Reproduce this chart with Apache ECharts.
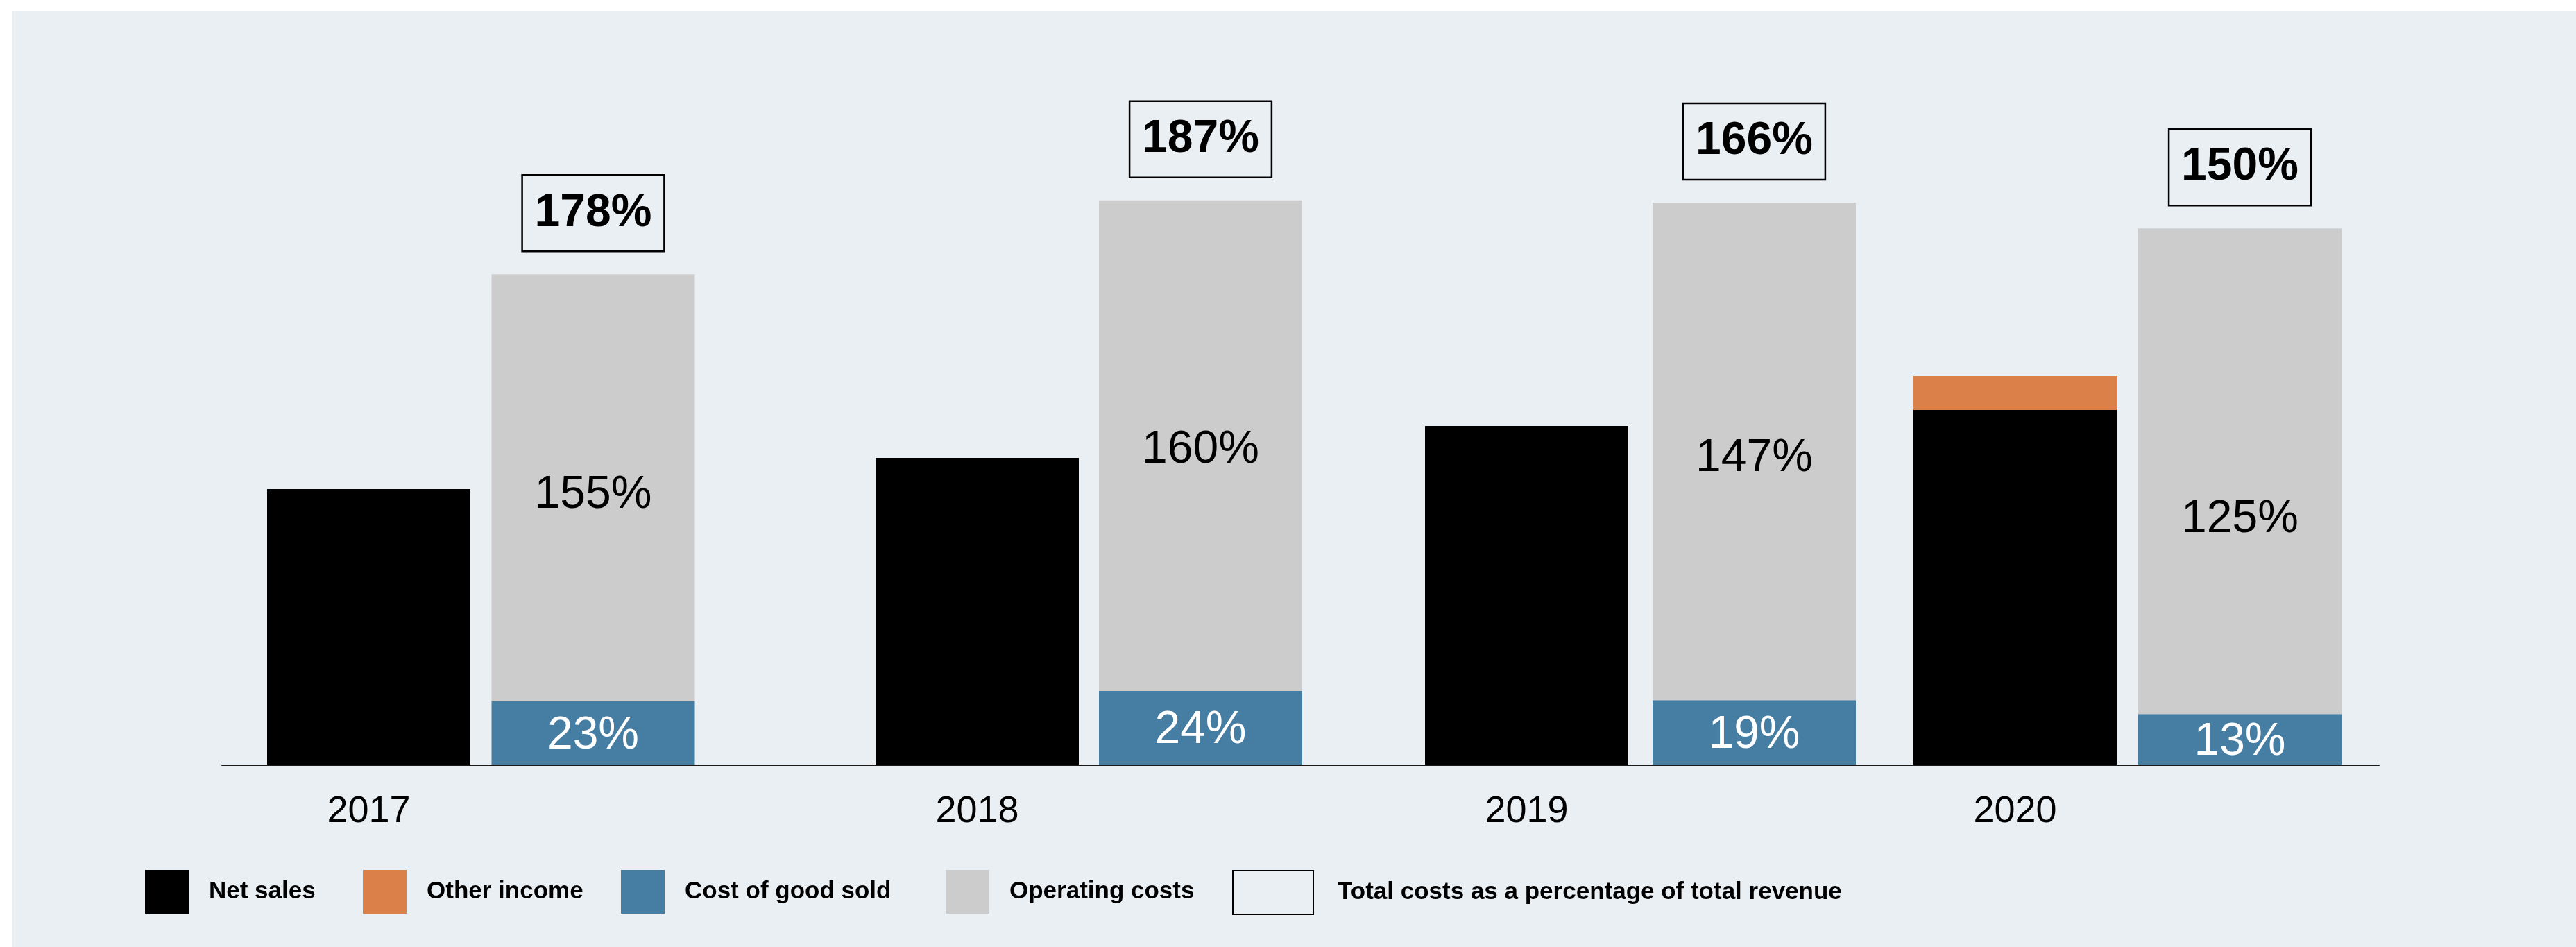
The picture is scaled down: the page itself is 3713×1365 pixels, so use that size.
<!DOCTYPE html>
<html>
<head>
<meta charset="utf-8">
<script src="https://cdn.jsdelivr.net/npm/echarts@6/dist/echarts.min.js"></script>
<style>
  html, body { margin: 0; padding: 0; background: #ffffff; }
  #chart { width: 3713px; height: 1365px; }
</style>
</head>
<body>
<div id="chart"></div>
<script>
// Revenue versus costs, 2017–2020
const years = ['2017', '2018', '2019', '2020'];
const netSales = [397, 442, 488, 511];
const otherIncome = [0, 0, 0, 49];
const cogsPct = [23, 24, 19, 13];        // cost of good sold, % of total revenue
const opexPct = [155, 160, 147, 125];    // operating costs, % of total revenue
const totalPct = [178, 187, 166, 150];   // total costs as reported
const seriesNames = ['Net sales', 'Other income', 'Cost of good sold', 'Operating costs',
  'Total costs as a percentage of total revenue'];

// ---- styling / layout ----
const COLORS = { net: '#000000', other: '#DC8049', cogs: '#467DA3', opex: '#CCCCCC', panel: '#EAEFF4' };
const FONT = '"Liberation Sans", Arial, Helvetica, sans-serif';
const W = 3713, H = 1365;
// centre x of the revenue column and the cost column of each year
const columnCentres = [[531.5, 855], [1408.5, 1730.5], [2200.5, 2528.5], [2904.5, 3228.5]];
const BAR_W = 293;
const PLOT_TOP = 102, PLOT_BOTTOM = 263, Y_MAX = 1000;
const opexLabelShift = [11, 6, 10, 70];
const legendLefts = [204, 518, 890, 1358, 1771];

const grid = [], xAxis = [], yAxis = [], series = [];

years.forEach((yr, i) => {
  const [c0, c1] = columnCentres[i];
  const slot = c1 - c0;
  grid.push({ left: c0 - slot / 2, width: slot * 2, top: PLOT_TOP, bottom: PLOT_BOTTOM });
  xAxis.push({
    type: 'category', gridIndex: i, data: [yr, ''],
    axisLine: { show: false }, axisTick: { show: false }, splitLine: { show: false },
    axisLabel: { fontFamily: FONT, fontSize: 54, color: '#000', margin: 41, interval: 0 }
  });
  yAxis.push({ type: 'value', gridIndex: i, min: 0, max: Y_MAX, show: false });

  const revenue = netSales[i] + otherIncome[i];
  const cogs = cogsPct[i] / 100 * revenue;
  const opex = opexPct[i] / 100 * revenue;
  const common = { type: 'bar', xAxisIndex: i, yAxisIndex: i, stack: 'col' + i, barWidth: BAR_W, silent: true };

  series.push(Object.assign({}, common, {
    name: seriesNames[0], data: [netSales[i], '-'], itemStyle: { color: COLORS.net }
  }));
  series.push(Object.assign({}, common, {
    name: seriesNames[1], data: [otherIncome[i] || '-', '-'], itemStyle: { color: COLORS.other }
  }));
  series.push(Object.assign({}, common, {
    name: seriesNames[2], data: ['-', cogs], itemStyle: { color: COLORS.cogs },
    label: {
      show: true, position: 'inside', offset: [0, 4], color: '#fff', fontFamily: FONT, fontSize: 66,
      formatter: () => cogsPct[i] + '%'
    }
  }));
  series.push(Object.assign({}, common, {
    name: seriesNames[3], data: ['-', opex], itemStyle: { color: COLORS.opex },
    label: {
      show: true, position: 'inside', offset: [0, opexLabelShift[i]], color: '#000', fontFamily: FONT, fontSize: 66,
      formatter: () => opexPct[i] + '%'
    }
  }));
  // boxed total sitting above the cost column
  series.push({
    type: 'scatter', name: seriesNames[4], xAxisIndex: i, yAxisIndex: i, silent: true,
    symbolSize: 0, itemStyle: { color: 'transparent', opacity: 1 },
    data: ['-', cogs + opex],
    label: {
      show: true, position: 'top', distance: 33,
      formatter: () => totalPct[i] + '%',
      fontFamily: FONT, fontSize: 66, fontWeight: 'bold', color: '#000', lineHeight: 66,
      borderColor: '#000', borderWidth: 2.5, padding: [22, 18]
    }
  });
});

// baseline shared by all years
grid.push({ left: 320, right: W - 3429, top: PLOT_TOP, bottom: PLOT_BOTTOM - 1 });
xAxis.push({
  type: 'value', gridIndex: 4, min: 0, max: 1,
  axisLine: { show: true, lineStyle: { color: '#1a1a1a', width: 2 } },
  axisTick: { show: false }, axisLabel: { show: false }, splitLine: { show: false }
});
yAxis.push({ type: 'value', gridIndex: 4, min: 0, max: 1, show: false });

const legend = seriesNames.map((name, k) => ({
  left: legendLefts[k], top: 1249, orient: 'horizontal',
  itemWidth: k === 4 ? 116 : 63, itemHeight: 63, selectedMode: false,
  data: [k === 4
    ? { name, icon: 'rect', itemStyle: { color: 'transparent', borderColor: '#000', borderWidth: 2, opacity: 1 } }
    : { name, icon: 'rect' }],
  textStyle: { fontFamily: FONT, fontSize: 35, fontWeight: 'bold', color: '#000', padding: [0, 0, 0, k === 4 ? 30 : 24] }
}));

const chart = echarts.init(document.getElementById('chart'), null, { renderer: 'canvas' });
chart.setOption({
  backgroundColor: '#ffffff',
  animation: false,
  graphic: [{
    type: 'rect', z: -10, silent: true,
    shape: { x: 18, y: 16, width: W - 18, height: H - 16 },
    style: { fill: COLORS.panel }
  }],
  grid, xAxis, yAxis, series, legend
});
</script>
</body>
</html>
